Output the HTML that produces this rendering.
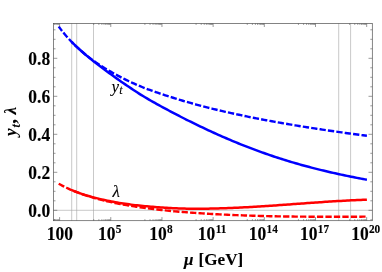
<!DOCTYPE html><html><head><meta charset="utf-8"><style>
html,body{margin:0;padding:0;background:#fff}
#c{position:relative;width:382px;height:272px;overflow:hidden;will-change:transform;font-family:"Liberation Serif",serif;color:#000}
.t{position:absolute;white-space:nowrap;font-weight:bold;font-size:17.5px;line-height:16px;-webkit-text-stroke:0.12px #000}
.xl{transform:translateX(-50%) scale(1,1.02);transform-origin:50% 13.9px}
.yl{text-align:right;width:40px;transform:scale(1,1.02);transform-origin:100% 13.9px}
sup.e{font-size:11.3px;line-height:0;position:relative;top:-6.9px;vertical-align:baseline;display:inline-block;transform:scale(1,1.1);transform-origin:50% 100%;margin-left:0.3px}
</style></head><body><div id="c">
<svg width="382" height="272" viewBox="0 0 382 272" style="position:absolute;left:0;top:0">
<line x1="71.70" y1="23.40" x2="71.70" y2="220.70" stroke="#a4a4a4" stroke-width="0.6"/>
<line x1="76.70" y1="23.40" x2="76.70" y2="220.70" stroke="#a4a4a4" stroke-width="0.6"/>
<line x1="93.50" y1="23.40" x2="93.50" y2="220.70" stroke="#a4a4a4" stroke-width="0.6"/>
<line x1="338.70" y1="23.40" x2="338.70" y2="220.70" stroke="#a4a4a4" stroke-width="0.6"/>
<line x1="350.60" y1="23.40" x2="350.60" y2="220.70" stroke="#a4a4a4" stroke-width="0.6"/>
<line x1="53.50" y1="210.30" x2="372.30" y2="210.30" stroke="#a4a4a4" stroke-width="0.6"/>
<path d="M58.70 26.53 L60.64 29.12 L62.58 31.60 L64.52 33.97 L66.45 36.25 L68.39 38.43 L70.33 40.53 L72.27 42.55 L74.21 44.49 L76.15 46.37 L78.08 48.18 L80.02 49.93 L81.96 51.63 L83.90 53.26 L85.84 54.85 L87.78 56.39 L89.71 57.89 L91.65 59.34 L93.59 60.75 L95.53 62.12 L97.47 63.46 L99.41 64.76 L101.34 66.03 L103.28 67.26 L105.22 68.47 L107.16 69.64 L109.10 70.79 L111.04 71.91 L112.97 73.01 L114.91 74.08 L116.85 75.13 L118.79 76.16 L120.73 77.17 L122.67 78.16 L124.60 79.13 L126.54 80.08 L128.48 81.01 L130.42 81.92 L132.36 82.81 L134.30 83.69 L136.23 84.54 L138.17 85.37 L140.11 86.19 L142.05 86.99 L143.99 87.76 L145.93 88.52 L147.86 89.26 L149.80 89.98 L151.74 90.68 L153.68 91.37 L155.62 92.05 L157.56 92.72 L159.49 93.37 L161.43 94.02 L163.37 94.65 L165.31 95.28 L167.25 95.91 L169.19 96.53 L171.13 97.14 L173.06 97.75 L175.00 98.36 L176.94 98.97 L178.88 99.56 L180.82 100.15 L182.76 100.73 L184.69 101.30 L186.63 101.86 L188.57 102.42 L190.51 102.97 L192.45 103.51 L194.39 104.04 L196.32 104.57 L198.26 105.09 L200.20 105.61 L202.14 106.12 L204.08 106.62 L206.02 107.12 L207.95 107.61 L209.89 108.10 L211.83 108.58 L213.77 109.06 L215.71 109.53 L217.65 109.99 L219.58 110.45 L221.52 110.91 L223.46 111.36 L225.40 111.80 L227.34 112.24 L229.28 112.68 L231.21 113.11 L233.15 113.54 L235.09 113.96 L237.03 114.38 L238.97 114.79 L240.91 115.20 L242.84 115.61 L244.78 116.01 L246.72 116.41 L248.66 116.81 L250.60 117.20 L252.54 117.59 L254.47 117.97 L256.41 118.35 L258.35 118.73 L260.29 119.10 L262.23 119.47 L264.17 119.84 L266.11 120.20 L268.04 120.57 L269.98 120.92 L271.92 121.28 L273.86 121.63 L275.80 121.98 L277.74 122.32 L279.67 122.67 L281.61 123.01 L283.55 123.35 L285.49 123.68 L287.43 124.01 L289.37 124.34 L291.30 124.67 L293.24 125.00 L295.18 125.32 L297.12 125.64 L299.06 125.95 L301.00 126.27 L302.93 126.58 L304.87 126.89 L306.81 127.20 L308.75 127.51 L310.69 127.81 L312.63 128.11 L314.56 128.41 L316.50 128.71 L318.44 129.00 L320.38 129.30 L322.32 129.59 L324.26 129.88 L326.19 130.16 L328.13 130.45 L330.07 130.73 L332.01 131.01 L333.95 131.29 L335.89 131.57 L337.82 131.85 L339.76 132.12 L341.70 132.40 L343.64 132.67 L345.58 132.94 L347.52 133.20 L349.45 133.47 L351.39 133.73 L353.33 134.00 L355.27 134.26 L357.21 134.52 L359.15 134.78 L361.08 135.03 L363.02 135.29 L364.96 135.54 L366.90 135.76" fill="none" stroke="#0000ff" stroke-width="2.4" stroke-dasharray="6.3 2.168" stroke-dashoffset="0.8"/>
<path d="M71.70 41.93 L73.68 43.90 L75.66 45.81 L77.64 47.67 L79.62 49.49 L81.61 51.27 L83.59 53.01 L85.57 54.72 L87.55 56.39 L89.53 58.03 L91.51 59.65 L93.49 61.24 L95.47 62.80 L97.46 64.34 L99.44 65.86 L101.42 67.35 L103.40 68.83 L105.38 70.28 L107.36 71.73 L109.34 73.17 L111.32 74.61 L113.31 76.04 L115.29 77.47 L117.27 78.88 L119.25 80.29 L121.23 81.67 L123.21 83.04 L125.19 84.39 L127.17 85.73 L129.16 87.07 L131.14 88.40 L133.12 89.72 L135.10 91.02 L137.08 92.31 L139.06 93.58 L141.04 94.82 L143.02 96.04 L145.00 97.23 L146.99 98.41 L148.97 99.56 L150.95 100.71 L152.93 101.84 L154.91 102.95 L156.89 104.06 L158.87 105.16 L160.85 106.24 L162.84 107.32 L164.82 108.39 L166.80 109.45 L168.78 110.51 L170.76 111.56 L172.74 112.60 L174.72 113.65 L176.70 114.68 L178.69 115.71 L180.67 116.74 L182.65 117.75 L184.63 118.76 L186.61 119.76 L188.59 120.75 L190.57 121.73 L192.55 122.71 L194.53 123.68 L196.52 124.64 L198.50 125.59 L200.48 126.54 L202.46 127.48 L204.44 128.42 L206.42 129.35 L208.40 130.27 L210.38 131.18 L212.37 132.09 L214.35 132.99 L216.33 133.89 L218.31 134.78 L220.29 135.66 L222.27 136.53 L224.25 137.40 L226.23 138.26 L228.22 139.11 L230.20 139.96 L232.18 140.79 L234.16 141.62 L236.14 142.44 L238.12 143.25 L240.10 144.05 L242.08 144.85 L244.07 145.63 L246.05 146.41 L248.03 147.18 L250.01 147.94 L251.99 148.70 L253.97 149.44 L255.95 150.18 L257.93 150.91 L259.91 151.63 L261.90 152.34 L263.88 153.05 L265.86 153.75 L267.84 154.43 L269.82 155.12 L271.80 155.79 L273.78 156.45 L275.76 157.11 L277.75 157.76 L279.73 158.40 L281.71 159.03 L283.69 159.66 L285.67 160.27 L287.65 160.88 L289.63 161.48 L291.61 162.08 L293.60 162.66 L295.58 163.24 L297.56 163.81 L299.54 164.38 L301.52 164.93 L303.50 165.48 L305.48 166.02 L307.46 166.56 L309.44 167.08 L311.43 167.60 L313.41 168.12 L315.39 168.62 L317.37 169.12 L319.35 169.62 L321.33 170.10 L323.31 170.58 L325.29 171.06 L327.28 171.52 L329.26 171.98 L331.24 172.44 L333.22 172.89 L335.20 173.33 L337.18 173.77 L339.16 174.20 L341.14 174.63 L343.13 175.05 L345.11 175.46 L347.09 175.88 L349.07 176.28 L351.05 176.68 L353.03 177.08 L355.01 177.47 L356.99 177.86 L358.98 178.24 L360.96 178.62 L362.94 179.00 L364.92 179.37 L366.90 179.71" fill="none" stroke="#0000ff" stroke-width="2.5"/>
<path d="M58.70 183.71 L60.64 184.80 L62.58 185.84 L64.52 186.83 L66.45 187.78 L68.39 188.69 L70.33 189.56 L72.27 190.39 L74.21 191.19 L76.15 191.96 L78.08 192.71 L80.02 193.42 L81.96 194.11 L83.90 194.78 L85.84 195.42 L87.78 196.04 L89.71 196.64 L91.65 197.22 L93.59 197.78 L95.53 198.33 L97.47 198.85 L99.41 199.37 L101.34 199.86 L103.28 200.34 L105.22 200.81 L107.16 201.26 L109.10 201.70 L111.04 202.13 L112.97 202.55 L114.91 202.95 L116.85 203.35 L118.79 203.73 L120.73 204.10 L122.67 204.46 L124.60 204.81 L126.54 205.15 L128.48 205.49 L130.42 205.81 L132.36 206.13 L134.30 206.44 L136.23 206.74 L138.17 207.03 L140.11 207.31 L142.05 207.59 L143.99 207.86 L145.93 208.12 L147.86 208.38 L149.80 208.63 L151.74 208.87 L153.68 209.11 L155.62 209.34 L157.56 209.56 L159.49 209.78 L161.43 210.00 L163.37 210.20 L165.31 210.41 L167.25 210.60 L169.19 210.80 L171.13 210.98 L173.06 211.17 L175.00 211.35 L176.94 211.52 L178.88 211.69 L180.82 211.85 L182.76 212.01 L184.69 212.17 L186.63 212.32 L188.57 212.47 L190.51 212.61 L192.45 212.75 L194.39 212.89 L196.32 213.02 L198.26 213.15 L200.20 213.28 L202.14 213.40 L204.08 213.52 L206.02 213.64 L207.95 213.75 L209.89 213.87 L211.83 213.98 L213.77 214.08 L215.71 214.19 L217.65 214.29 L219.58 214.39 L221.52 214.48 L223.46 214.58 L225.40 214.67 L227.34 214.76 L229.28 214.84 L231.21 214.93 L233.15 215.01 L235.09 215.09 L237.03 215.17 L238.97 215.24 L240.91 215.32 L242.84 215.39 L244.78 215.46 L246.72 215.52 L248.66 215.59 L250.60 215.65 L252.54 215.71 L254.47 215.77 L256.41 215.83 L258.35 215.88 L260.29 215.94 L262.23 215.99 L264.17 216.04 L266.11 216.09 L268.04 216.13 L269.98 216.18 L271.92 216.22 L273.86 216.26 L275.80 216.30 L277.74 216.33 L279.67 216.37 L281.61 216.40 L283.55 216.43 L285.49 216.46 L287.43 216.49 L289.37 216.52 L291.30 216.54 L293.24 216.56 L295.18 216.58 L297.12 216.60 L299.06 216.62 L301.00 216.64 L302.93 216.66 L304.87 216.67 L306.81 216.69 L308.75 216.70 L310.69 216.71 L312.63 216.73 L314.56 216.74 L316.50 216.74 L318.44 216.75 L320.38 216.76 L322.32 216.76 L324.26 216.77 L326.19 216.77 L328.13 216.77 L330.07 216.78 L332.01 216.78 L333.95 216.78 L335.89 216.78 L337.82 216.77 L339.76 216.77 L341.70 216.77 L343.64 216.76 L345.58 216.76 L347.52 216.75 L349.45 216.74 L351.39 216.73 L353.33 216.73 L355.27 216.72 L357.21 216.70 L359.15 216.69 L361.08 216.68 L363.02 216.67 L364.96 216.65 L366.90 216.64" fill="none" stroke="#ff0000" stroke-width="2.4" stroke-dasharray="6.3 2.166"/>
<path d="M71.70 190.15 L73.68 190.95 L75.66 191.72 L77.64 192.45 L79.62 193.16 L81.61 193.83 L83.59 194.48 L85.57 195.10 L87.55 195.70 L89.53 196.28 L91.51 196.84 L93.49 197.38 L95.47 197.90 L97.46 198.40 L99.44 198.89 L101.42 199.36 L103.40 199.81 L105.38 200.25 L107.36 200.67 L109.34 201.07 L111.32 201.46 L113.31 201.84 L115.29 202.20 L117.27 202.54 L119.25 202.88 L121.23 203.20 L123.21 203.51 L125.19 203.80 L127.17 204.09 L129.16 204.36 L131.14 204.62 L133.12 204.88 L135.10 205.12 L137.08 205.35 L139.06 205.57 L141.04 205.78 L143.02 205.98 L145.00 206.17 L146.99 206.36 L148.97 206.53 L150.95 206.70 L152.93 206.86 L154.91 207.02 L156.89 207.17 L158.87 207.31 L160.85 207.45 L162.84 207.58 L164.82 207.71 L166.80 207.83 L168.78 207.94 L170.76 208.05 L172.74 208.15 L174.72 208.24 L176.70 208.32 L178.69 208.40 L180.67 208.47 L182.65 208.54 L184.63 208.59 L186.61 208.64 L188.59 208.68 L190.57 208.71 L192.55 208.73 L194.53 208.75 L196.52 208.76 L198.50 208.76 L200.48 208.75 L202.46 208.73 L204.44 208.71 L206.42 208.68 L208.40 208.65 L210.38 208.61 L212.37 208.57 L214.35 208.53 L216.33 208.48 L218.31 208.42 L220.29 208.36 L222.27 208.30 L224.25 208.23 L226.23 208.16 L228.22 208.09 L230.20 208.01 L232.18 207.92 L234.16 207.84 L236.14 207.75 L238.12 207.65 L240.10 207.56 L242.08 207.46 L244.07 207.36 L246.05 207.25 L248.03 207.14 L250.01 207.03 L251.99 206.92 L253.97 206.80 L255.95 206.68 L257.93 206.56 L259.91 206.44 L261.90 206.31 L263.88 206.19 L265.86 206.06 L267.84 205.93 L269.82 205.79 L271.80 205.66 L273.78 205.53 L275.76 205.39 L277.75 205.25 L279.73 205.11 L281.71 204.97 L283.69 204.83 L285.67 204.69 L287.65 204.55 L289.63 204.40 L291.61 204.26 L293.60 204.12 L295.58 203.97 L297.56 203.83 L299.54 203.69 L301.52 203.54 L303.50 203.40 L305.48 203.26 L307.46 203.11 L309.44 202.97 L311.43 202.83 L313.41 202.69 L315.39 202.55 L317.37 202.41 L319.35 202.27 L321.33 202.14 L323.31 202.00 L325.29 201.87 L327.28 201.74 L329.26 201.61 L331.24 201.48 L333.22 201.36 L335.20 201.24 L337.18 201.11 L339.16 201.00 L341.14 200.88 L343.13 200.77 L345.11 200.66 L347.09 200.55 L349.07 200.45 L351.05 200.35 L353.03 200.25 L355.01 200.15 L356.99 200.06 L358.98 199.98 L360.96 199.89 L362.94 199.82 L364.92 199.74 L366.90 199.67" fill="none" stroke="#ff0000" stroke-width="2.5"/>
<rect x="53.50" y="23.40" width="318.80" height="197.30" fill="none" stroke="#505050" stroke-width="0.7"/>
<line x1="59.60" y1="220.70" x2="59.60" y2="217.10" stroke="#555" stroke-width="0.6"/>
<line x1="59.60" y1="23.40" x2="59.60" y2="27.00" stroke="#555" stroke-width="0.6"/>
<line x1="54.46" y1="220.70" x2="54.46" y2="219.20" stroke="#555" stroke-width="0.6"/>
<line x1="54.46" y1="23.40" x2="54.46" y2="24.90" stroke="#555" stroke-width="0.6"/>
<line x1="55.82" y1="220.70" x2="55.82" y2="219.20" stroke="#555" stroke-width="0.6"/>
<line x1="55.82" y1="23.40" x2="55.82" y2="24.90" stroke="#555" stroke-width="0.6"/>
<line x1="56.96" y1="220.70" x2="56.96" y2="219.20" stroke="#555" stroke-width="0.6"/>
<line x1="56.96" y1="23.40" x2="56.96" y2="24.90" stroke="#555" stroke-width="0.6"/>
<line x1="57.95" y1="220.70" x2="57.95" y2="219.20" stroke="#555" stroke-width="0.6"/>
<line x1="57.95" y1="23.40" x2="57.95" y2="24.90" stroke="#555" stroke-width="0.6"/>
<line x1="58.82" y1="220.70" x2="58.82" y2="219.20" stroke="#555" stroke-width="0.6"/>
<line x1="58.82" y1="23.40" x2="58.82" y2="24.90" stroke="#555" stroke-width="0.6"/>
<line x1="110.78" y1="220.70" x2="110.78" y2="217.10" stroke="#555" stroke-width="0.6"/>
<line x1="110.78" y1="23.40" x2="110.78" y2="27.00" stroke="#555" stroke-width="0.6"/>
<line x1="93.72" y1="220.70" x2="93.72" y2="219.20" stroke="#555" stroke-width="0.6"/>
<line x1="93.72" y1="23.40" x2="93.72" y2="24.90" stroke="#555" stroke-width="0.6"/>
<line x1="98.86" y1="220.70" x2="98.86" y2="219.20" stroke="#555" stroke-width="0.6"/>
<line x1="98.86" y1="23.40" x2="98.86" y2="24.90" stroke="#555" stroke-width="0.6"/>
<line x1="101.86" y1="220.70" x2="101.86" y2="219.20" stroke="#555" stroke-width="0.6"/>
<line x1="101.86" y1="23.40" x2="101.86" y2="24.90" stroke="#555" stroke-width="0.6"/>
<line x1="103.99" y1="220.70" x2="103.99" y2="219.20" stroke="#555" stroke-width="0.6"/>
<line x1="103.99" y1="23.40" x2="103.99" y2="24.90" stroke="#555" stroke-width="0.6"/>
<line x1="105.64" y1="220.70" x2="105.64" y2="219.20" stroke="#555" stroke-width="0.6"/>
<line x1="105.64" y1="23.40" x2="105.64" y2="24.90" stroke="#555" stroke-width="0.6"/>
<line x1="107.00" y1="220.70" x2="107.00" y2="219.20" stroke="#555" stroke-width="0.6"/>
<line x1="107.00" y1="23.40" x2="107.00" y2="24.90" stroke="#555" stroke-width="0.6"/>
<line x1="108.14" y1="220.70" x2="108.14" y2="219.20" stroke="#555" stroke-width="0.6"/>
<line x1="108.14" y1="23.40" x2="108.14" y2="24.90" stroke="#555" stroke-width="0.6"/>
<line x1="109.13" y1="220.70" x2="109.13" y2="219.20" stroke="#555" stroke-width="0.6"/>
<line x1="109.13" y1="23.40" x2="109.13" y2="24.90" stroke="#555" stroke-width="0.6"/>
<line x1="110.00" y1="220.70" x2="110.00" y2="219.20" stroke="#555" stroke-width="0.6"/>
<line x1="110.00" y1="23.40" x2="110.00" y2="24.90" stroke="#555" stroke-width="0.6"/>
<line x1="161.96" y1="220.70" x2="161.96" y2="217.10" stroke="#555" stroke-width="0.6"/>
<line x1="161.96" y1="23.40" x2="161.96" y2="27.00" stroke="#555" stroke-width="0.6"/>
<line x1="144.90" y1="220.70" x2="144.90" y2="219.20" stroke="#555" stroke-width="0.6"/>
<line x1="144.90" y1="23.40" x2="144.90" y2="24.90" stroke="#555" stroke-width="0.6"/>
<line x1="150.04" y1="220.70" x2="150.04" y2="219.20" stroke="#555" stroke-width="0.6"/>
<line x1="150.04" y1="23.40" x2="150.04" y2="24.90" stroke="#555" stroke-width="0.6"/>
<line x1="153.04" y1="220.70" x2="153.04" y2="219.20" stroke="#555" stroke-width="0.6"/>
<line x1="153.04" y1="23.40" x2="153.04" y2="24.90" stroke="#555" stroke-width="0.6"/>
<line x1="155.17" y1="220.70" x2="155.17" y2="219.20" stroke="#555" stroke-width="0.6"/>
<line x1="155.17" y1="23.40" x2="155.17" y2="24.90" stroke="#555" stroke-width="0.6"/>
<line x1="156.82" y1="220.70" x2="156.82" y2="219.20" stroke="#555" stroke-width="0.6"/>
<line x1="156.82" y1="23.40" x2="156.82" y2="24.90" stroke="#555" stroke-width="0.6"/>
<line x1="158.18" y1="220.70" x2="158.18" y2="219.20" stroke="#555" stroke-width="0.6"/>
<line x1="158.18" y1="23.40" x2="158.18" y2="24.90" stroke="#555" stroke-width="0.6"/>
<line x1="159.32" y1="220.70" x2="159.32" y2="219.20" stroke="#555" stroke-width="0.6"/>
<line x1="159.32" y1="23.40" x2="159.32" y2="24.90" stroke="#555" stroke-width="0.6"/>
<line x1="160.31" y1="220.70" x2="160.31" y2="219.20" stroke="#555" stroke-width="0.6"/>
<line x1="160.31" y1="23.40" x2="160.31" y2="24.90" stroke="#555" stroke-width="0.6"/>
<line x1="161.18" y1="220.70" x2="161.18" y2="219.20" stroke="#555" stroke-width="0.6"/>
<line x1="161.18" y1="23.40" x2="161.18" y2="24.90" stroke="#555" stroke-width="0.6"/>
<line x1="213.14" y1="220.70" x2="213.14" y2="217.10" stroke="#555" stroke-width="0.6"/>
<line x1="213.14" y1="23.40" x2="213.14" y2="27.00" stroke="#555" stroke-width="0.6"/>
<line x1="196.08" y1="220.70" x2="196.08" y2="219.20" stroke="#555" stroke-width="0.6"/>
<line x1="196.08" y1="23.40" x2="196.08" y2="24.90" stroke="#555" stroke-width="0.6"/>
<line x1="201.22" y1="220.70" x2="201.22" y2="219.20" stroke="#555" stroke-width="0.6"/>
<line x1="201.22" y1="23.40" x2="201.22" y2="24.90" stroke="#555" stroke-width="0.6"/>
<line x1="204.22" y1="220.70" x2="204.22" y2="219.20" stroke="#555" stroke-width="0.6"/>
<line x1="204.22" y1="23.40" x2="204.22" y2="24.90" stroke="#555" stroke-width="0.6"/>
<line x1="206.35" y1="220.70" x2="206.35" y2="219.20" stroke="#555" stroke-width="0.6"/>
<line x1="206.35" y1="23.40" x2="206.35" y2="24.90" stroke="#555" stroke-width="0.6"/>
<line x1="208.00" y1="220.70" x2="208.00" y2="219.20" stroke="#555" stroke-width="0.6"/>
<line x1="208.00" y1="23.40" x2="208.00" y2="24.90" stroke="#555" stroke-width="0.6"/>
<line x1="209.36" y1="220.70" x2="209.36" y2="219.20" stroke="#555" stroke-width="0.6"/>
<line x1="209.36" y1="23.40" x2="209.36" y2="24.90" stroke="#555" stroke-width="0.6"/>
<line x1="210.50" y1="220.70" x2="210.50" y2="219.20" stroke="#555" stroke-width="0.6"/>
<line x1="210.50" y1="23.40" x2="210.50" y2="24.90" stroke="#555" stroke-width="0.6"/>
<line x1="211.49" y1="220.70" x2="211.49" y2="219.20" stroke="#555" stroke-width="0.6"/>
<line x1="211.49" y1="23.40" x2="211.49" y2="24.90" stroke="#555" stroke-width="0.6"/>
<line x1="212.36" y1="220.70" x2="212.36" y2="219.20" stroke="#555" stroke-width="0.6"/>
<line x1="212.36" y1="23.40" x2="212.36" y2="24.90" stroke="#555" stroke-width="0.6"/>
<line x1="264.32" y1="220.70" x2="264.32" y2="217.10" stroke="#555" stroke-width="0.6"/>
<line x1="264.32" y1="23.40" x2="264.32" y2="27.00" stroke="#555" stroke-width="0.6"/>
<line x1="247.26" y1="220.70" x2="247.26" y2="219.20" stroke="#555" stroke-width="0.6"/>
<line x1="247.26" y1="23.40" x2="247.26" y2="24.90" stroke="#555" stroke-width="0.6"/>
<line x1="252.40" y1="220.70" x2="252.40" y2="219.20" stroke="#555" stroke-width="0.6"/>
<line x1="252.40" y1="23.40" x2="252.40" y2="24.90" stroke="#555" stroke-width="0.6"/>
<line x1="255.40" y1="220.70" x2="255.40" y2="219.20" stroke="#555" stroke-width="0.6"/>
<line x1="255.40" y1="23.40" x2="255.40" y2="24.90" stroke="#555" stroke-width="0.6"/>
<line x1="257.53" y1="220.70" x2="257.53" y2="219.20" stroke="#555" stroke-width="0.6"/>
<line x1="257.53" y1="23.40" x2="257.53" y2="24.90" stroke="#555" stroke-width="0.6"/>
<line x1="259.18" y1="220.70" x2="259.18" y2="219.20" stroke="#555" stroke-width="0.6"/>
<line x1="259.18" y1="23.40" x2="259.18" y2="24.90" stroke="#555" stroke-width="0.6"/>
<line x1="260.54" y1="220.70" x2="260.54" y2="219.20" stroke="#555" stroke-width="0.6"/>
<line x1="260.54" y1="23.40" x2="260.54" y2="24.90" stroke="#555" stroke-width="0.6"/>
<line x1="261.68" y1="220.70" x2="261.68" y2="219.20" stroke="#555" stroke-width="0.6"/>
<line x1="261.68" y1="23.40" x2="261.68" y2="24.90" stroke="#555" stroke-width="0.6"/>
<line x1="262.67" y1="220.70" x2="262.67" y2="219.20" stroke="#555" stroke-width="0.6"/>
<line x1="262.67" y1="23.40" x2="262.67" y2="24.90" stroke="#555" stroke-width="0.6"/>
<line x1="263.54" y1="220.70" x2="263.54" y2="219.20" stroke="#555" stroke-width="0.6"/>
<line x1="263.54" y1="23.40" x2="263.54" y2="24.90" stroke="#555" stroke-width="0.6"/>
<line x1="315.50" y1="220.70" x2="315.50" y2="217.10" stroke="#555" stroke-width="0.6"/>
<line x1="315.50" y1="23.40" x2="315.50" y2="27.00" stroke="#555" stroke-width="0.6"/>
<line x1="298.44" y1="220.70" x2="298.44" y2="219.20" stroke="#555" stroke-width="0.6"/>
<line x1="298.44" y1="23.40" x2="298.44" y2="24.90" stroke="#555" stroke-width="0.6"/>
<line x1="303.58" y1="220.70" x2="303.58" y2="219.20" stroke="#555" stroke-width="0.6"/>
<line x1="303.58" y1="23.40" x2="303.58" y2="24.90" stroke="#555" stroke-width="0.6"/>
<line x1="306.58" y1="220.70" x2="306.58" y2="219.20" stroke="#555" stroke-width="0.6"/>
<line x1="306.58" y1="23.40" x2="306.58" y2="24.90" stroke="#555" stroke-width="0.6"/>
<line x1="308.71" y1="220.70" x2="308.71" y2="219.20" stroke="#555" stroke-width="0.6"/>
<line x1="308.71" y1="23.40" x2="308.71" y2="24.90" stroke="#555" stroke-width="0.6"/>
<line x1="310.36" y1="220.70" x2="310.36" y2="219.20" stroke="#555" stroke-width="0.6"/>
<line x1="310.36" y1="23.40" x2="310.36" y2="24.90" stroke="#555" stroke-width="0.6"/>
<line x1="311.72" y1="220.70" x2="311.72" y2="219.20" stroke="#555" stroke-width="0.6"/>
<line x1="311.72" y1="23.40" x2="311.72" y2="24.90" stroke="#555" stroke-width="0.6"/>
<line x1="312.86" y1="220.70" x2="312.86" y2="219.20" stroke="#555" stroke-width="0.6"/>
<line x1="312.86" y1="23.40" x2="312.86" y2="24.90" stroke="#555" stroke-width="0.6"/>
<line x1="313.85" y1="220.70" x2="313.85" y2="219.20" stroke="#555" stroke-width="0.6"/>
<line x1="313.85" y1="23.40" x2="313.85" y2="24.90" stroke="#555" stroke-width="0.6"/>
<line x1="314.72" y1="220.70" x2="314.72" y2="219.20" stroke="#555" stroke-width="0.6"/>
<line x1="314.72" y1="23.40" x2="314.72" y2="24.90" stroke="#555" stroke-width="0.6"/>
<line x1="366.68" y1="220.70" x2="366.68" y2="217.10" stroke="#555" stroke-width="0.6"/>
<line x1="366.68" y1="23.40" x2="366.68" y2="27.00" stroke="#555" stroke-width="0.6"/>
<line x1="349.62" y1="220.70" x2="349.62" y2="219.20" stroke="#555" stroke-width="0.6"/>
<line x1="349.62" y1="23.40" x2="349.62" y2="24.90" stroke="#555" stroke-width="0.6"/>
<line x1="354.76" y1="220.70" x2="354.76" y2="219.20" stroke="#555" stroke-width="0.6"/>
<line x1="354.76" y1="23.40" x2="354.76" y2="24.90" stroke="#555" stroke-width="0.6"/>
<line x1="357.76" y1="220.70" x2="357.76" y2="219.20" stroke="#555" stroke-width="0.6"/>
<line x1="357.76" y1="23.40" x2="357.76" y2="24.90" stroke="#555" stroke-width="0.6"/>
<line x1="359.89" y1="220.70" x2="359.89" y2="219.20" stroke="#555" stroke-width="0.6"/>
<line x1="359.89" y1="23.40" x2="359.89" y2="24.90" stroke="#555" stroke-width="0.6"/>
<line x1="361.54" y1="220.70" x2="361.54" y2="219.20" stroke="#555" stroke-width="0.6"/>
<line x1="361.54" y1="23.40" x2="361.54" y2="24.90" stroke="#555" stroke-width="0.6"/>
<line x1="362.90" y1="220.70" x2="362.90" y2="219.20" stroke="#555" stroke-width="0.6"/>
<line x1="362.90" y1="23.40" x2="362.90" y2="24.90" stroke="#555" stroke-width="0.6"/>
<line x1="364.04" y1="220.70" x2="364.04" y2="219.20" stroke="#555" stroke-width="0.6"/>
<line x1="364.04" y1="23.40" x2="364.04" y2="24.90" stroke="#555" stroke-width="0.6"/>
<line x1="365.03" y1="220.70" x2="365.03" y2="219.20" stroke="#555" stroke-width="0.6"/>
<line x1="365.03" y1="23.40" x2="365.03" y2="24.90" stroke="#555" stroke-width="0.6"/>
<line x1="365.90" y1="220.70" x2="365.90" y2="219.20" stroke="#555" stroke-width="0.6"/>
<line x1="365.90" y1="23.40" x2="365.90" y2="24.90" stroke="#555" stroke-width="0.6"/>
<line x1="53.50" y1="219.80" x2="55.50" y2="219.80" stroke="#555" stroke-width="0.6"/>
<line x1="372.30" y1="219.80" x2="370.30" y2="219.80" stroke="#555" stroke-width="0.6"/>
<line x1="53.50" y1="210.30" x2="57.30" y2="210.30" stroke="#555" stroke-width="0.6"/>
<line x1="372.30" y1="210.30" x2="368.50" y2="210.30" stroke="#555" stroke-width="0.6"/>
<line x1="53.50" y1="200.80" x2="55.50" y2="200.80" stroke="#555" stroke-width="0.6"/>
<line x1="372.30" y1="200.80" x2="370.30" y2="200.80" stroke="#555" stroke-width="0.6"/>
<line x1="53.50" y1="191.30" x2="55.50" y2="191.30" stroke="#555" stroke-width="0.6"/>
<line x1="372.30" y1="191.30" x2="370.30" y2="191.30" stroke="#555" stroke-width="0.6"/>
<line x1="53.50" y1="181.80" x2="55.50" y2="181.80" stroke="#555" stroke-width="0.6"/>
<line x1="372.30" y1="181.80" x2="370.30" y2="181.80" stroke="#555" stroke-width="0.6"/>
<line x1="53.50" y1="172.30" x2="57.30" y2="172.30" stroke="#555" stroke-width="0.6"/>
<line x1="372.30" y1="172.30" x2="368.50" y2="172.30" stroke="#555" stroke-width="0.6"/>
<line x1="53.50" y1="162.80" x2="55.50" y2="162.80" stroke="#555" stroke-width="0.6"/>
<line x1="372.30" y1="162.80" x2="370.30" y2="162.80" stroke="#555" stroke-width="0.6"/>
<line x1="53.50" y1="153.30" x2="55.50" y2="153.30" stroke="#555" stroke-width="0.6"/>
<line x1="372.30" y1="153.30" x2="370.30" y2="153.30" stroke="#555" stroke-width="0.6"/>
<line x1="53.50" y1="143.80" x2="55.50" y2="143.80" stroke="#555" stroke-width="0.6"/>
<line x1="372.30" y1="143.80" x2="370.30" y2="143.80" stroke="#555" stroke-width="0.6"/>
<line x1="53.50" y1="134.30" x2="57.30" y2="134.30" stroke="#555" stroke-width="0.6"/>
<line x1="372.30" y1="134.30" x2="368.50" y2="134.30" stroke="#555" stroke-width="0.6"/>
<line x1="53.50" y1="124.80" x2="55.50" y2="124.80" stroke="#555" stroke-width="0.6"/>
<line x1="372.30" y1="124.80" x2="370.30" y2="124.80" stroke="#555" stroke-width="0.6"/>
<line x1="53.50" y1="115.30" x2="55.50" y2="115.30" stroke="#555" stroke-width="0.6"/>
<line x1="372.30" y1="115.30" x2="370.30" y2="115.30" stroke="#555" stroke-width="0.6"/>
<line x1="53.50" y1="105.80" x2="55.50" y2="105.80" stroke="#555" stroke-width="0.6"/>
<line x1="372.30" y1="105.80" x2="370.30" y2="105.80" stroke="#555" stroke-width="0.6"/>
<line x1="53.50" y1="96.30" x2="57.30" y2="96.30" stroke="#555" stroke-width="0.6"/>
<line x1="372.30" y1="96.30" x2="368.50" y2="96.30" stroke="#555" stroke-width="0.6"/>
<line x1="53.50" y1="86.80" x2="55.50" y2="86.80" stroke="#555" stroke-width="0.6"/>
<line x1="372.30" y1="86.80" x2="370.30" y2="86.80" stroke="#555" stroke-width="0.6"/>
<line x1="53.50" y1="77.30" x2="55.50" y2="77.30" stroke="#555" stroke-width="0.6"/>
<line x1="372.30" y1="77.30" x2="370.30" y2="77.30" stroke="#555" stroke-width="0.6"/>
<line x1="53.50" y1="67.80" x2="55.50" y2="67.80" stroke="#555" stroke-width="0.6"/>
<line x1="372.30" y1="67.80" x2="370.30" y2="67.80" stroke="#555" stroke-width="0.6"/>
<line x1="53.50" y1="58.30" x2="57.30" y2="58.30" stroke="#555" stroke-width="0.6"/>
<line x1="372.30" y1="58.30" x2="368.50" y2="58.30" stroke="#555" stroke-width="0.6"/>
<line x1="53.50" y1="48.80" x2="55.50" y2="48.80" stroke="#555" stroke-width="0.6"/>
<line x1="372.30" y1="48.80" x2="370.30" y2="48.80" stroke="#555" stroke-width="0.6"/>
<line x1="53.50" y1="39.30" x2="55.50" y2="39.30" stroke="#555" stroke-width="0.6"/>
<line x1="372.30" y1="39.30" x2="370.30" y2="39.30" stroke="#555" stroke-width="0.6"/>
<line x1="53.50" y1="29.80" x2="55.50" y2="29.80" stroke="#555" stroke-width="0.6"/>
<line x1="372.30" y1="29.80" x2="370.30" y2="29.80" stroke="#555" stroke-width="0.6"/>
</svg>
<div class="t yl" style="left:10.2px;top:203.2px">0.0</div>
<div class="t yl" style="left:10.2px;top:165.2px">0.2</div>
<div class="t yl" style="left:10.2px;top:127.2px">0.4</div>
<div class="t yl" style="left:10.2px;top:89.2px">0.6</div>
<div class="t yl" style="left:10.2px;top:51.2px">0.8</div>
<div class="t xl" style="left:59.9px;top:226.0px">100</div>
<div class="t xl" style="left:109.8px;top:226.0px">10<sup class="e">5</sup></div>
<div class="t xl" style="left:161.0px;top:226.0px">10<sup class="e">8</sup></div>
<div class="t xl" style="left:212.1px;top:226.0px">10<sup class="e">11</sup></div>
<div class="t xl" style="left:263.3px;top:226.0px">10<sup class="e">14</sup></div>
<div class="t xl" style="left:314.5px;top:226.0px">10<sup class="e">17</sup></div>
<div class="t xl" style="left:365.7px;top:226.0px">10<sup class="e">20</sup></div>
<div class="t" style="font-size:17.1px;left:183.9px;top:252.3px"><i>&mu;</i><span style="margin-left:0.9px"> </span>[GeV]</div>
<div class="t" style="font-size:17px;left:2.6px;top:120.2px;transform-origin:0 0;transform:translate(0px,16px) rotate(-90deg)"><i>y<sub style="font-size:12px;line-height:0;vertical-align:-4.2px;margin-left:1.0px">t</sub></i><span style="margin-left:0.3px;font-size:18.5px;line-height:0">,</span><span style="margin-left:0.5px"> </span><i>&lambda;</i></div>
<div class="t" style="font-weight:normal;font-style:italic;font-size:17px;left:111.6px;top:78.7px">y<sub style="font-size:12px;line-height:0;vertical-align:-1.9px">t</sub></div>
<div class="t" style="font-weight:normal;font-style:italic;font-size:17px;left:112.5px;top:183.8px">&lambda;</div>
</div></body></html>
